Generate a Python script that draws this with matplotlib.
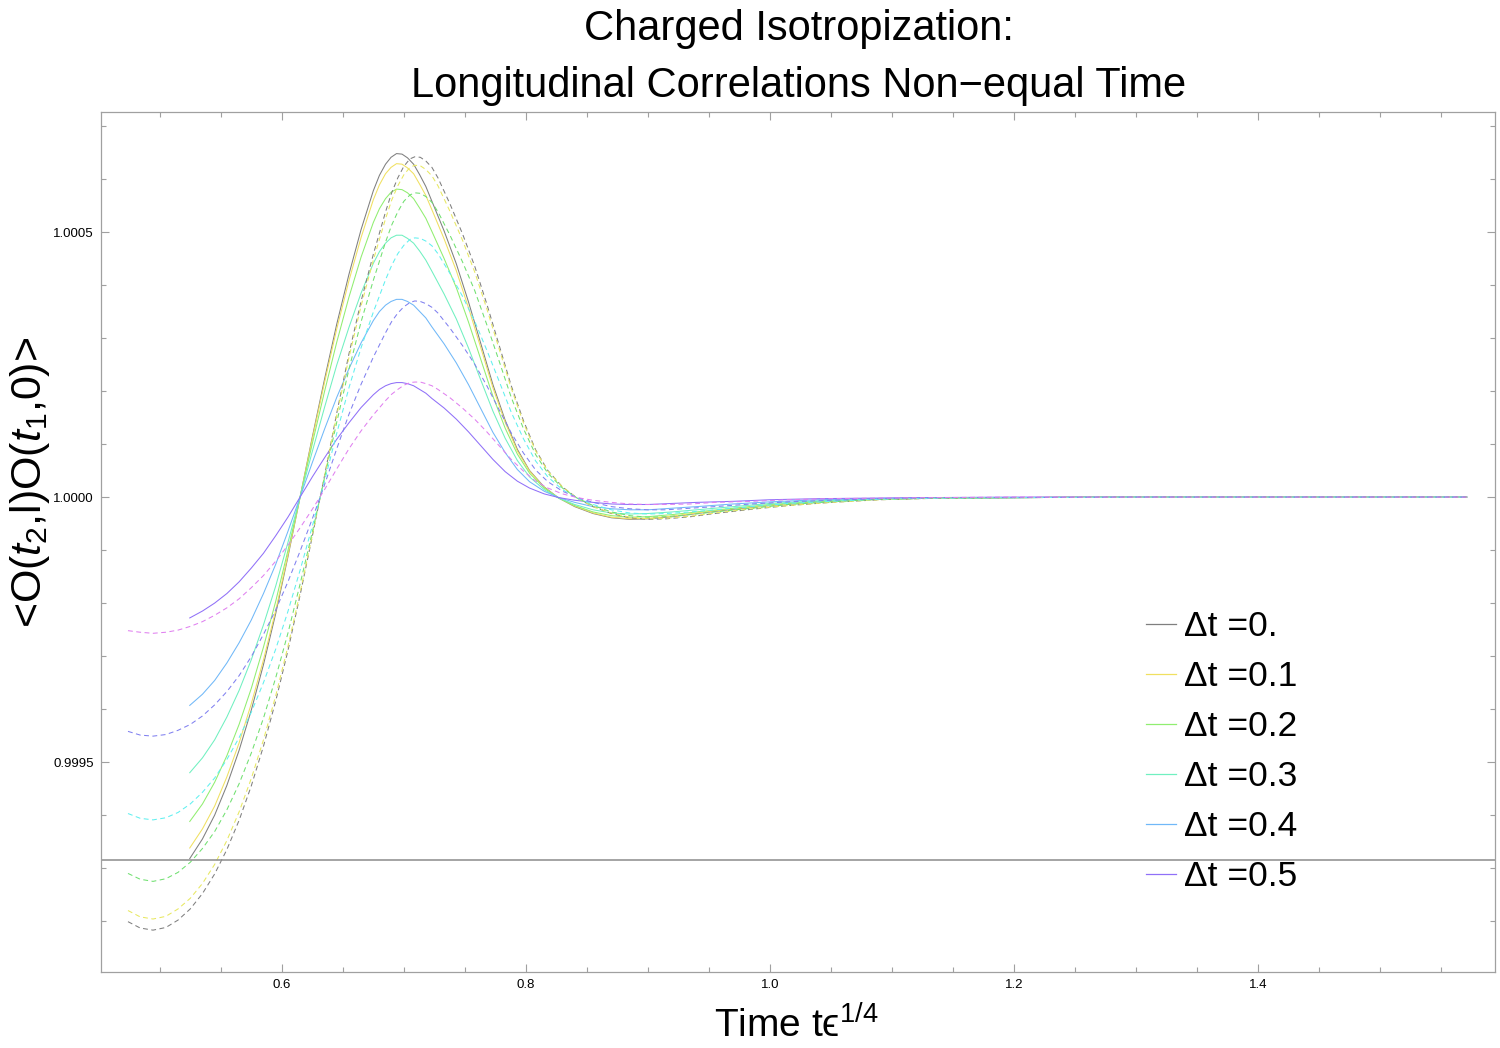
import matplotlib
matplotlib.use('Agg')
import matplotlib.pyplot as plt
from matplotlib.ticker import MultipleLocator

plt.rcParams['font.family'] = ['Liberation Sans', 'DejaVu Sans']
plt.rcParams['mathtext.fontset'] = 'custom'
plt.rcParams['mathtext.rm'] = 'Liberation Sans'
plt.rcParams['mathtext.it'] = 'Liberation Sans:italic'
plt.rcParams['lines.scale_dashes'] = False

# deviations from 1, in units of 1e-4
x_solid = [0.5246, 0.535, 0.545, 0.555, 0.565, 0.575, 0.585, 0.595, 0.605, 0.615,
           0.625, 0.635, 0.645, 0.655, 0.665, 0.675, 0.680, 0.685, 0.6895, 0.694,
           0.6985, 0.703, 0.708, 0.713, 0.718, 0.723, 0.733, 0.743, 0.753, 0.763,
           0.773, 0.783, 0.793, 0.803, 0.815, 0.827, 0.84, 0.855, 0.87, 0.885,
           0.90, 0.92, 0.94, 0.97, 1.0, 1.04, 1.08, 1.13, 1.2, 1.3,
           1.4, 1.5, 1.5708]

solid_00 = [-6.82, -6.45, -6.00, -5.44, -4.78, -4.02, -3.16, -2.20, -1.13, 0.00,
            1.13, 2.22, 3.26, 4.20, 5.05, 5.78, 6.07, 6.28, 6.41, 6.48,
            6.47, 6.40, 6.28, 6.08, 5.86, 5.58, 5.02, 4.40, 3.68, 2.90,
            2.12, 1.45, 0.90, 0.50, 0.19, -0.02, -0.18, -0.31, -0.39, -0.42,
            -0.41, -0.37, -0.31, -0.23, -0.16, -0.09, -0.05, -0.02, -0.01, 0.0,
            0.0, 0.0, 0.0]
solid_01 = [-6.62, -6.26, -5.83, -5.28, -4.64, -3.90, -3.07, -2.14, -1.10, 0.00,
            1.10, 2.16, 3.17, 4.08, 4.90, 5.61, 5.89, 6.10, 6.22, 6.29,
            6.28, 6.21, 6.10, 5.90, 5.69, 5.42, 4.87, 4.27, 3.57, 2.82,
            2.06, 1.41, 0.87, 0.49, 0.18, -0.02, -0.17, -0.30, -0.38, -0.41,
            -0.40, -0.36, -0.30, -0.22, -0.16, -0.09, -0.05, -0.02, -0.01, 0.0,
            0.0, 0.0, 0.0]
solid_02 = [-6.12, -5.79, -5.38, -4.88, -4.29, -3.61, -2.83, -1.97, -1.01, 0.00,
            1.01, 1.99, 2.92, 3.77, 4.53, 5.18, 5.44, 5.63, 5.75, 5.81,
            5.80, 5.74, 5.63, 5.45, 5.26, 5.01, 4.50, 3.95, 3.30, 2.60,
            1.90, 1.30, 0.81, 0.45, 0.17, -0.02, -0.16, -0.28, -0.35, -0.38,
            -0.37, -0.33, -0.28, -0.21, -0.14, -0.08, -0.04, -0.02, -0.01, 0.0,
            0.0, 0.0, 0.0]
solid_03 = [-5.20, -4.92, -4.58, -4.15, -3.65, -3.07, -2.41, -1.68, -0.86, 0.00,
            0.86, 1.69, 2.49, 3.20, 3.85, 4.41, 4.63, 4.79, 4.89, 4.94,
            4.94, 4.88, 4.79, 4.64, 4.47, 4.26, 3.83, 3.36, 2.81, 2.21,
            1.62, 1.11, 0.69, 0.38, 0.14, -0.02, -0.14, -0.24, -0.30, -0.32,
            -0.31, -0.28, -0.24, -0.18, -0.12, -0.07, -0.04, -0.02, -0.01, 0.0,
            0.0, 0.0, 0.0]
solid_04 = [-3.93, -3.72, -3.46, -3.13, -2.75, -2.32, -1.82, -1.27, -0.65, 0.00,
            0.65, 1.28, 1.88, 2.42, 2.91, 3.33, 3.50, 3.62, 3.69, 3.73,
            3.73, 3.69, 3.62, 3.50, 3.38, 3.21, 2.89, 2.53, 2.12, 1.67,
            1.22, 0.84, 0.52, 0.29, 0.11, -0.01, -0.10, -0.18, -0.22, -0.24,
            -0.24, -0.21, -0.18, -0.13, -0.09, -0.05, -0.03, -0.01, -0.01, 0.0,
            0.0, 0.0, 0.0]
solid_05 = [-2.28, -2.15, -2.00, -1.82, -1.60, -1.34, -1.06, -0.73, -0.38, 0.00,
            0.38, 0.74, 1.09, 1.40, 1.69, 1.93, 2.03, 2.10, 2.14, 2.16,
            2.16, 2.14, 2.10, 2.03, 1.96, 1.86, 1.68, 1.47, 1.23, 0.97,
            0.71, 0.48, 0.30, 0.17, 0.06, -0.01, -0.06, -0.10, -0.13, -0.14,
            -0.14, -0.12, -0.10, -0.08, -0.05, -0.03, -0.02, -0.01, 0.0, 0.0,
            0.0, 0.0, 0.0]

x_dashed = [0.474, 0.484, 0.4945, 0.505, 0.515, 0.525, 0.535, 0.545, 0.555, 0.565,
            0.575, 0.585, 0.595, 0.605, 0.615, 0.625, 0.635, 0.645, 0.655, 0.665,
            0.675, 0.685, 0.690, 0.695, 0.700, 0.705, 0.709, 0.7135, 0.718, 0.723,
            0.728, 0.738, 0.748, 0.758, 0.768, 0.778, 0.788, 0.798, 0.808, 0.818,
            0.830, 0.842, 0.855, 0.870, 0.885, 0.900, 0.915, 0.935, 0.955, 0.985,
            1.015, 1.05, 1.09, 1.14, 1.2, 1.3, 1.4, 1.5, 1.5708]

dashed_00 = [-8.01, -8.13, -8.17, -8.12, -7.98, -7.77, -7.48, -7.11, -6.65, -6.10,
             -5.45, -4.70, -3.85, -2.90, -1.85, -0.74, 0.40, 1.58, 2.70, 3.70,
             4.58, 5.38, 5.74, 6.02, 6.24, 6.38, 6.42, 6.41, 6.34, 6.22,
             6.02, 5.52, 4.97, 4.36, 3.64, 2.87, 2.10, 1.44, 0.89, 0.50,
             0.19, -0.02, -0.18, -0.31, -0.39, -0.42, -0.41, -0.37, -0.31, -0.23,
             -0.16, -0.10, -0.05, -0.02, -0.01, 0.0, 0.0, 0.0, 0.0]
dashed_01 = [-7.80, -7.92, -7.96, -7.91, -7.77, -7.57, -7.29, -6.93, -6.48, -5.94,
             -5.31, -4.58, -3.75, -2.82, -1.80, -0.72, 0.39, 1.54, 2.63, 3.61,
             4.47, 5.25, 5.60, 5.87, 6.08, 6.22, 6.26, 6.25, 6.18, 6.06,
             5.87, 5.38, 4.85, 4.25, 3.55, 2.80, 2.05, 1.40, 0.87, 0.49,
             0.19, -0.02, -0.18, -0.30, -0.38, -0.41, -0.40, -0.36, -0.30, -0.22,
             -0.16, -0.10, -0.05, -0.02, -0.01, 0.0, 0.0, 0.0, 0.0]
dashed_02 = [-7.10, -7.21, -7.25, -7.20, -7.08, -6.89, -6.63, -6.31, -5.90, -5.41,
             -4.83, -4.17, -3.41, -2.57, -1.64, -0.66, 0.36, 1.41, 2.41, 3.31,
             4.09, 4.81, 5.13, 5.38, 5.58, 5.70, 5.74, 5.73, 5.67, 5.56,
             5.38, 4.93, 4.44, 3.90, 3.25, 2.57, 1.88, 1.29, 0.80, 0.45,
             0.17, -0.02, -0.16, -0.28, -0.35, -0.38, -0.37, -0.33, -0.28, -0.21,
             -0.14, -0.09, -0.04, -0.02, -0.01, 0.0, 0.0, 0.0, 0.0]
dashed_03 = [-5.97, -6.06, -6.09, -6.05, -5.95, -5.79, -5.57, -5.30, -4.95, -4.54,
             -4.06, -3.50, -2.87, -2.16, -1.38, -0.55, 0.30, 1.20, 2.06, 2.82,
             3.49, 4.10, 4.37, 4.59, 4.75, 4.86, 4.89, 4.88, 4.83, 4.74,
             4.59, 4.21, 3.79, 3.32, 2.77, 2.19, 1.60, 1.10, 0.68, 0.38,
             0.14, -0.02, -0.14, -0.24, -0.30, -0.32, -0.31, -0.28, -0.24, -0.18,
             -0.12, -0.08, -0.04, -0.02, -0.01, 0.0, 0.0, 0.0, 0.0]
dashed_04 = [-4.42, -4.49, -4.51, -4.48, -4.40, -4.29, -4.13, -3.92, -3.67, -3.37,
             -3.01, -2.59, -2.13, -1.60, -1.02, -0.41, 0.23, 0.91, 1.56, 2.13,
             2.64, 3.10, 3.31, 3.47, 3.59, 3.67, 3.70, 3.69, 3.65, 3.58,
             3.47, 3.18, 2.86, 2.51, 2.10, 1.65, 1.21, 0.83, 0.51, 0.29,
             0.11, -0.01, -0.10, -0.18, -0.22, -0.24, -0.24, -0.21, -0.18, -0.13,
             -0.09, -0.06, -0.03, -0.01, -0.01, 0.0, 0.0, 0.0, 0.0]
dashed_05 = [-2.52, -2.55, -2.57, -2.55, -2.51, -2.44, -2.35, -2.23, -2.09, -1.92,
             -1.71, -1.48, -1.21, -0.91, -0.58, -0.23, 0.14, 0.53, 0.91, 1.25,
             1.55, 1.82, 1.94, 2.03, 2.11, 2.16, 2.17, 2.17, 2.14, 2.10,
             2.03, 1.87, 1.68, 1.47, 1.23, 0.97, 0.71, 0.49, 0.30, 0.17,
             0.06, -0.01, -0.06, -0.10, -0.13, -0.14, -0.14, -0.13, -0.10, -0.08,
             -0.05, -0.03, -0.02, -0.01, 0.0, 0.0, 0.0, 0.0, 0.0]

solids = [solid_00, solid_01, solid_02, solid_03, solid_04, solid_05]
dashed = [dashed_00, dashed_01, dashed_02, dashed_03, dashed_04, dashed_05]
labels = ['Δt =0.', 'Δt =0.1', 'Δt =0.2', 'Δt =0.3', 'Δt =0.4', 'Δt =0.5']
solid_colors = ['#7f7f7f', '#f0e060', '#90ee70', '#70f0c0', '#70b8f8', '#9070f8']
dashed_colors = ['#7f7f7f', '#e8e860', '#70e070', '#60f0f0', '#8080f0', '#e080f0']

axis_line_y = 0.9993151
scale = 1e-4

fig = plt.figure(figsize=(15, 10.48), dpi=100)
fig.patch.set_facecolor('white')
ax = fig.add_axes([0.0671, 0.0725, 0.9296, 0.8206])

handles = []
for vals, c, lab in zip(solids, solid_colors, labels):
    ys = [1 + v * scale for v in vals]
    h, = ax.plot(x_solid, ys, color=c, lw=0.75, label=lab)
    handles.append(h)
for vals, c in zip(dashed, dashed_colors):
    ys = [1 + v * scale for v in vals]
    ax.plot(x_dashed, ys, color=c, lw=0.75, linestyle=(0, (3.5, 2.5)))

ax.axhline(axis_line_y, color='#8c8c8c', lw=1.1)

ax.set_xlim(0.4516, 1.594)
ax.set_ylim(0.999104, 1.0007264)

ax.set_xticks([0.6, 0.8, 1.0, 1.2, 1.4])
ax.set_xticklabels(['0.6', '0.8', '1.0', '1.2', '1.4'])
ax.xaxis.set_minor_locator(MultipleLocator(0.05))
ax.set_yticks([0.9995, 1.0, 1.0005])
ax.set_yticklabels(['0.9995', '1.0000', '1.0005'])
ax.yaxis.set_minor_locator(MultipleLocator(0.0001))
ax.tick_params(which='both', direction='in', top=True, right=True,
               color='#a0a0a0', width=0.8, labelsize=9.5, pad=5)
ax.tick_params(which='major', length=6)
ax.tick_params(which='minor', length=3.8)
for sp in ax.spines.values():
    sp.set_color('#a0a0a0')
    sp.set_linewidth(0.9)

fig.text(0.5327, 1 - 40 / 1048, 'Charged Isotropization:', fontsize=30,
         ha='center', va='baseline')
fig.text(0.5327, 1 - 97 / 1048, 'Longitudinal Correlations Non\u2212equal Time',
         fontsize=30, ha='center', va='baseline')
fig.text(0.531, 1 - 1038 / 1048, 'Time t\u03f5$^{1/4}$', fontsize=28,
         ha='center', va='baseline')
fig.text(30 / 1500, 1 - 482 / 1048, r'<O($t_2$,l)O($t_1$,0)>', fontsize=31,
         rotation=90, ha='center', va='center')

leg = ax.legend(handles=handles, loc='upper left', bbox_to_anchor=(0.7497, 0.421),
                fontsize=25.5, handlelength=0.85, handletextpad=0.21,
                labelspacing=0.48, frameon=False, borderpad=0, borderaxespad=0)
for ln in leg.get_lines():
    ln.set_linewidth(0.9)

fig.savefig('out.png', dpi=100, facecolor='white')
